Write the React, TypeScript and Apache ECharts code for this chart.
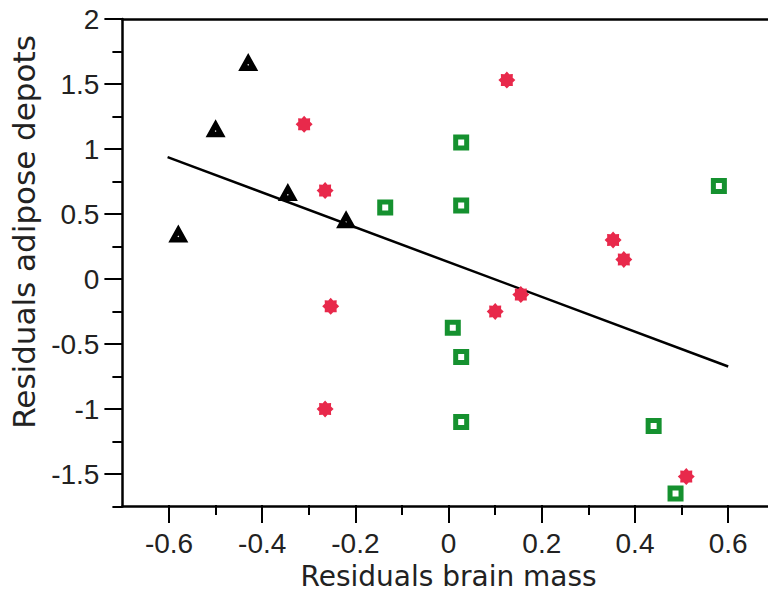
import React, { useEffect, useRef } from "react";
import * as echarts from "echarts";

// Black triangles
const triangleX = [-0.58, -0.5, -0.43, -0.345, -0.22];
const triangleY = [0.35, 1.16, 1.67, 0.67, 0.46];
// Red asterisks
const starX = [-0.31, -0.265, -0.253, -0.265, 0.1, 0.155, 0.125, 0.353, 0.376, 0.51];
const starY = [1.19, 0.68, -0.21, -1.0, -0.25, -0.12, 1.53, 0.3, 0.15, -1.52];
// Green open squares
const squareX = [-0.136, 0.027, 0.027, 0.009, 0.027, 0.027, 0.44, 0.487, 0.58];
const squareY = [0.55, 1.05, 0.565, -0.375, -0.6, -1.1, -1.13, -1.65, 0.715];
// Regression line end points
const fitX = [-0.603, 0.6];
const fitY = [0.937, -0.673];

const xTitle = "Residuals brain mass";
const yTitle = "Residuals adipose depots";

const starPath =
  "path://M20 10 L16.9 12.9 L17.07 17.07 L12.9 16.9 L10 20 L7.1 16.9 L2.93 17.07 L3.1 12.9 L0 10 L3.1 7.1 L2.93 2.93 L7.1 3.1 L10 0 L12.9 3.1 L17.07 2.93 L16.9 7.1 Z";
const trianglePath =
  "path://M10 0 L20 18 L0 18 Z M10 11 L9.1 11.9 L10 12.8 L10.9 11.9 Z";

const zip = (xs: number[], ys: number[]) => xs.map((x, i) => [x, ys[i]]);

export default function App() {
  const ref = useRef<HTMLDivElement>(null);
  useEffect(() => {
    if (!ref.current) return;
    const chart = echarts.init(ref.current, undefined, { renderer: "svg" });
    const black = "#000";
    const labelFont = {
      fontFamily: "Liberation Sans, Arial, sans-serif",
      fontSize: 28,
      color: "#222",
    };
    chart.setOption({
      animation: false,
      backgroundColor: "#fff",
      grid: [
        { left: 122.4, right: 1.9, top: 19, bottom: 88.5 },
        { left: 169, right: 71.8, top: 19, bottom: 88.5 },
        { left: 122.4, right: 1.9, top: 19, bottom: 121 },
      ],
      xAxis: [
        {
          gridIndex: 0, type: "value", min: -0.7, max: 0.75,
          axisLine: { show: true, onZero: false, lineStyle: { color: black, width: 2.5 } },
          axisTick: { show: false }, axisLabel: { show: false }, splitLine: { show: false },
        },
        {
          gridIndex: 0, type: "value", position: "top", min: -0.7, max: 0.75,
          axisLine: { show: true, onZero: false, lineStyle: { color: black, width: 2.5 } },
          axisTick: { show: false }, axisLabel: { show: false }, splitLine: { show: false },
        },
        {
          gridIndex: 1, type: "value", min: -0.6, max: 0.6, interval: 0.2,
          axisLine: { show: false, onZero: false },
          axisTick: { show: true, inside: false, length: 18, lineStyle: { color: black, width: 2 } },
          minorTick: { show: true, splitNumber: 2, length: 10, lineStyle: { color: black, width: 2 } },
          axisLabel: { ...labelFont, margin: 24 },
          splitLine: { show: false },
          name: xTitle,
          nameLocation: "middle",
          nameGap: 52,
          nameTextStyle: { fontFamily: "DejaVu Sans, sans-serif", fontSize: 28, color: "#222" },
        },
        { gridIndex: 2, type: "value", show: false, min: -0.7, max: 0.75 },
      ],
      yAxis: [
        {
          gridIndex: 0, type: "value", min: -1.75, max: 2, interval: 3.75,
          axisLine: { show: true, onZero: false, lineStyle: { color: black, width: 2.5 } },
          axisTick: { show: true, inside: false, length: 10, lineStyle: { color: black, width: 2 } },
          axisLabel: { show: false }, splitLine: { show: false },
        },
        { gridIndex: 1, type: "value", show: false, min: -1.75, max: 2 },
        {
          gridIndex: 2, type: "value", min: -1.5, max: 2, interval: 0.5,
          axisLine: { show: false, onZero: false },
          axisTick: { show: true, inside: false, length: 18, lineStyle: { color: black, width: 2 } },
          minorTick: { show: true, splitNumber: 2, length: 10, lineStyle: { color: black, width: 2 } },
          axisLabel: { ...labelFont, margin: 23 },
          splitLine: { show: false },
        },
      ],
      graphic: [
        {
          type: "text",
          x: 24,
          y: 232,
          rotation: Math.PI / 2,
          style: {
            text: yTitle,
            fill: "#222",
            font: "31px 'DejaVu Sans', sans-serif",
            textAlign: "center",
            textVerticalAlign: "middle",
          },
        },
      ],
      series: [
        {
          type: "line",
          xAxisIndex: 0, yAxisIndex: 0,
          data: zip(fitX, fitY),
          symbol: "none",
          lineStyle: { color: black, width: 2.5 },
          silent: true,
          z: 1,
        },
        {
          type: "scatter", name: "triangles",
          xAxisIndex: 0, yAxisIndex: 0,
          data: zip(triangleX, triangleY),
          symbol: trianglePath,
          symbolSize: [20, 18],
          itemStyle: { color: black, opacity: 1, borderWidth: 0 },
          z: 3,
        },
        {
          type: "scatter", name: "stars",
          xAxisIndex: 0, yAxisIndex: 0,
          data: zip(starX, starY),
          symbol: starPath,
          symbolSize: 17,
          itemStyle: { color: "#e8294b", opacity: 1 },
          z: 3,
        },
        {
          type: "scatter", name: "squares",
          xAxisIndex: 0, yAxisIndex: 0,
          data: zip(squareX, squareY),
          symbol: "rect",
          symbolSize: 11,
          itemStyle: { color: "#fff", borderColor: "#15912f", borderWidth: 5, opacity: 1 },
          z: 3,
        },
      ],
    });
    return () => chart.dispose();
  }, []);
  return (
    <div style={{ position: "absolute", left: 0, top: 0, width: 768, height: 595, overflow: "hidden", background: "#fff" }}>
      <div ref={ref} style={{ width: 800, height: 595 }} />
    </div>
  );
}
